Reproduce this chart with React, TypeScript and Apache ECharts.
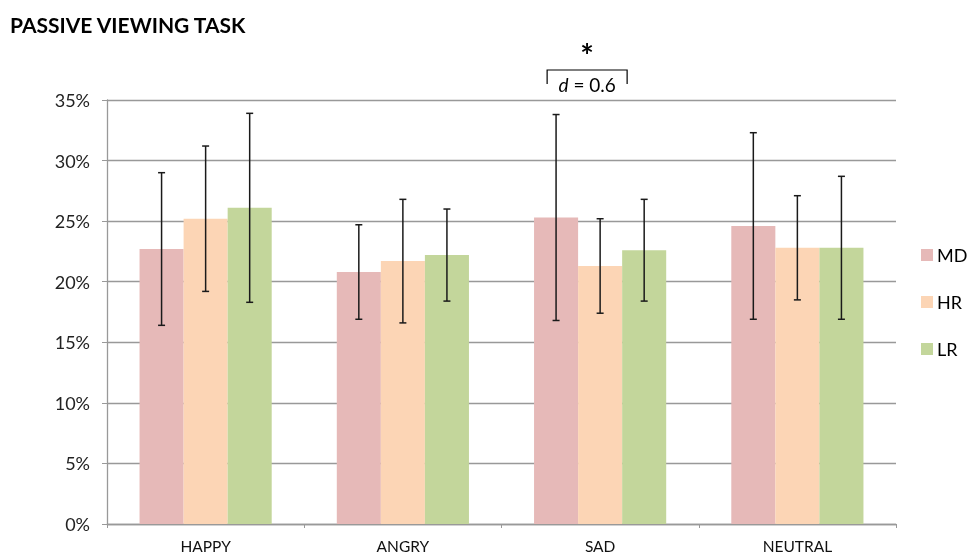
import React, { useEffect, useRef } from "react";
import * as echarts from "echarts";

const categories = ["HAPPY", "ANGRY", "SAD", "NEUTRAL"];
const seriesNames = ["MD", "HR", "LR"];
const mdValues = [22.7, 20.8, 25.3, 24.6];
const mdSd = [6.3, 3.9, 8.5, 7.7];
const hrValues = [25.2, 21.7, 21.3, 22.8];
const hrSd = [6.0, 5.1, 3.9, 4.3];
const lrValues = [26.1, 22.2, 22.6, 22.8];
const lrSd = [7.8, 3.8, 4.2, 5.9];
const yTicks = [0, 5, 10, 15, 20, 25, 30, 35];
const colors = ["#E6B9B8", "#FCD5B5", "#C3D69B"];
const FONT = "Lato, 'Open Sans', sans-serif";

const CAT_GAP = 0.33;

export default function App() {
  const ref = useRef<HTMLDivElement>(null);
  useEffect(() => {
    if (!ref.current) return;
    const chart = echarts.init(ref.current, undefined, { renderer: "svg" });
    const values = [mdValues, hrValues, lrValues];
    const sds = [mdSd, hrSd, lrSd];

    const barSeries = seriesNames.map((name, i) => ({
      name,
      type: "bar",
      data: values[i],
      itemStyle: { color: colors[i] },
      barGap: "0%",
      barCategoryGap: CAT_GAP * 100 + "%",
      z: 2,
    }));

    const errSeries = seriesNames.map((name, i) => ({
      name: name + "-err",
      type: "custom",
      z: 5,
      data: values[i].map((v, k) => [k, v, sds[i][k]]),
      encode: { x: 0, y: 1 },
      renderItem: (params: any, api: any) => {
        const k = api.value(0);
        const v = api.value(1);
        const sd = api.value(2);
        const band = api.size([1, 0])[0];
        const bw = (band * (1 - CAT_GAP)) / 3;
        const c = api.coord([k, v]);
        const x = c[0] + (i - 1) * bw;
        const top = api.coord([k, v + sd])[1];
        const bot = api.coord([k, v - sd])[1];
        const cap = 3.5;
        const style = { stroke: "#1a1a1a", lineWidth: 1.5 };
        return {
          type: "group",
          children: [
            { type: "line", shape: { x1: x, y1: top, x2: x, y2: bot }, style },
            { type: "line", shape: { x1: x - cap, y1: top, x2: x + cap, y2: top }, style },
            { type: "line", shape: { x1: x - cap, y1: bot, x2: x + cap, y2: bot }, style },
          ],
        };
      },
    }));

    chart.setOption({
      animation: false,
      title: {
        text: "PASSIVE VIEWING TASK",
        left: 5,
        top: 9,
        textStyle: { fontFamily: FONT, fontSize: 21, fontWeight: "bold", color: "#000" },
      },
      legend: {
        data: seriesNames,
        orient: "vertical",
        left: 916,
        top: 241,
        itemWidth: 12,
        itemHeight: 12,
        itemGap: 29,
        icon: "rect",
        textStyle: { fontFamily: FONT, fontSize: 18, color: "#000", padding: [0, 0, 0, -1] },
      },
      grid: { left: 107, right: 72, top: 100, bottom: 29.5, containLabel: false },
      xAxis: {
        type: "category",
        data: categories,
        axisLine: { lineStyle: { color: "#999", width: 1.3 } },
        axisTick: { show: true, alignWithLabel: false, length: 4, lineStyle: { color: "#999" } },
        axisLabel: { fontFamily: FONT, fontSize: 15.5, color: "#111", margin: 14 },
      },
      yAxis: {
        type: "value",
        min: yTicks[0],
        max: yTicks[yTicks.length - 1],
        interval: 5,
        axisLine: { show: true, lineStyle: { color: "#999", width: 1.3 } },
        axisTick: { show: true, length: 5, lineStyle: { color: "#999" } },
        axisLabel: {
          fontFamily: FONT,
          fontSize: 18,
          color: "#222",
          margin: 17,
          formatter: (v: number) => v + "%",
        },
        splitLine: { lineStyle: { color: "#999", width: 1.3 } },
      },
      series: [...barSeries, ...errSeries],
    });

    const cx = chart.convertToPixel({ xAxisIndex: 0 }, 2) as number;
    const x1 = cx - 53;
    const x2 = cx + 27;
    const mid = cx - 13;
    chart.setOption({
      graphic: [
        {
          type: "polyline",
          shape: { points: [[x1, 84], [x1, 70], [x2, 70], [x2, 84]] },
          style: { stroke: "#000", lineWidth: 1.2, fill: "none" },
        },
        {
          type: "text",
          x: mid,
          y: 55,
          style: {
            text: "*",
            fontFamily: FONT,
            fontSize: 32,
            fontWeight: "bold",
            fill: "#000",
            align: "center",
            verticalAlign: "middle",
          },
        },
        {
          type: "text",
          x: mid,
          y: 84,
          style: {
            text: "{i|d} = 0.6",
            fontFamily: FONT,
            fontSize: 19,
            fill: "#000",
            align: "center",
            verticalAlign: "middle",
            rich: { i: { fontStyle: "italic", fontFamily: FONT, fontSize: 19, fill: "#000" } },
          },
        },
      ],
    });

    return () => chart.dispose();
  }, []);
  return (
    <div
      ref={ref}
      style={{ position: "fixed", left: 0, top: 0, width: 968, height: 554 }}
    />
  );
}
